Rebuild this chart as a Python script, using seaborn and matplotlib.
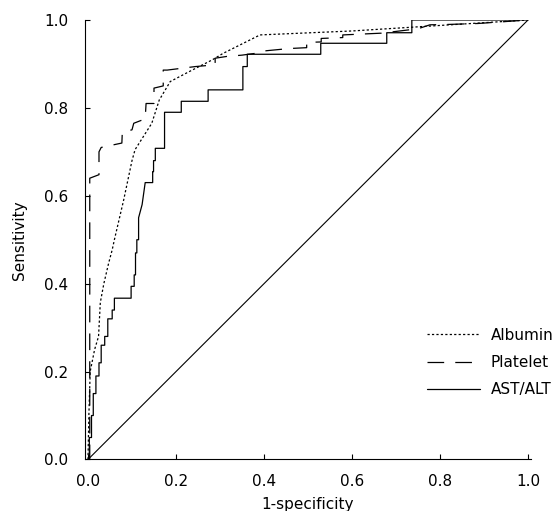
import pandas as pd
import matplotlib.pyplot as plt
import seaborn as sns

sns.set_theme(style="ticks")
plt.rcParams['font.family'] = ['DejaVu Sans']
plt.rcParams['lines.scale_dashes'] = False
plt.rcParams['text.color'] = 'black'
plt.rcParams['axes.labelcolor'] = 'black'

# ROC curves (1-specificity, sensitivity)
albumin_fpr = [0.0, 0.002, 0.005, 0.015, 0.024, 0.028, 0.036, 0.047, 0.055, 0.06, 0.081,
               0.1, 0.107, 0.145, 0.162, 0.187, 0.229, 0.282, 0.307, 0.391, 0.6, 0.823, 1.0]
albumin_tpr = [0.0, 0.1, 0.2, 0.25, 0.28, 0.357, 0.40, 0.447, 0.477, 0.5, 0.59,
               0.68, 0.705, 0.765, 0.818, 0.86, 0.882, 0.909, 0.924, 0.966, 0.975, 0.989, 1.0]

platelet_fpr = [0.0, 0.004, 0.004, 0.025, 0.025, 0.03, 0.077, 0.078, 0.10, 0.104, 0.13,
                0.132, 0.15, 0.15, 0.171, 0.171, 0.18, 0.244, 0.289, 0.289, 0.315, 0.35,
                0.38, 0.405, 0.457, 0.497, 0.497, 0.53, 0.53, 0.579, 0.579, 0.667, 0.75,
                0.777, 0.823, 0.886, 1.0]
platelet_tpr = [0.0, 0.0, 0.64, 0.648, 0.70, 0.71, 0.72, 0.745, 0.75, 0.765, 0.775,
                0.81, 0.81, 0.845, 0.85, 0.886, 0.886, 0.894, 0.898, 0.913, 0.917, 0.92,
                0.924, 0.93, 0.935, 0.937, 0.949, 0.95, 0.958, 0.96, 0.966, 0.97, 0.98,
                0.989, 0.99, 0.992, 1.0]

astalt_fpr = [0.0, 0.003, 0.003, 0.008, 0.008, 0.012, 0.012, 0.018, 0.018, 0.025, 0.025,
              0.03, 0.03, 0.038, 0.038, 0.045, 0.045, 0.055, 0.055, 0.06, 0.06, 0.098,
              0.098, 0.105, 0.105, 0.108, 0.108, 0.111, 0.111, 0.115, 0.115, 0.123, 0.13,
              0.147, 0.147, 0.149, 0.149, 0.153, 0.153, 0.174, 0.174, 0.212, 0.212, 0.273,
              0.273, 0.352, 0.352, 0.362, 0.362, 0.529, 0.529, 0.679, 0.679, 0.736, 0.736, 1.0]
astalt_tpr = [0.0, 0.0, 0.05, 0.05, 0.1, 0.1, 0.15, 0.15, 0.19, 0.19, 0.22,
              0.22, 0.26, 0.26, 0.28, 0.28, 0.32, 0.32, 0.34, 0.34, 0.367, 0.367,
              0.394, 0.394, 0.42, 0.42, 0.47, 0.47, 0.5, 0.5, 0.55, 0.58, 0.63,
              0.63, 0.655, 0.655, 0.68, 0.68, 0.708, 0.708, 0.79, 0.79, 0.815, 0.815,
              0.841, 0.841, 0.894, 0.894, 0.922, 0.922, 0.947, 0.947, 0.971, 0.971, 1.0, 1.0]

ref_x = [0.0, 1.0]
ref_y = [0.0, 1.0]

fig = plt.figure(figsize=(5.59, 5.11), dpi=100)
ax = fig.add_axes([0.1515, 0.1008, 0.7984, 0.8601])

lw = 0.9
sns.lineplot(x=albumin_fpr, y=albumin_tpr, sort=False, estimator=None, color='black',
             lw=lw, linestyle=(0, (1.6, 1.6)), label='Albumin', ax=ax)
sns.lineplot(x=platelet_fpr, y=platelet_tpr, sort=False, estimator=None, color='black',
             lw=lw, linestyle=(0, (12, 8)), label='Platelet', ax=ax)
sns.lineplot(x=astalt_fpr, y=astalt_tpr, sort=False, estimator=None, color='black',
             lw=lw, linestyle='-', label='AST/ALT', ax=ax)
sns.lineplot(x=ref_x, y=ref_y, sort=False, estimator=None, color='black', lw=0.8, ax=ax)

ax.set_xlim(-0.0075, 1.0068)
ax.set_ylim(0, 1.0)
ax.set_xticks([0.0, 0.2, 0.4, 0.6, 0.8, 1.0])
ax.set_yticks([0.0, 0.2, 0.4, 0.6, 0.8, 1.0])
ax.set_xticklabels(['0.0', '0.2', '0.4', '0.6', '0.8', '1.0'])
ax.set_yticklabels(['0.0', '0.2', '0.4', '0.6', '0.8', '1.0'])
sns.despine(ax=ax)
for s in ['left', 'bottom']:
    ax.spines[s].set_linewidth(0.8)
    ax.spines[s].set_color('black')
ax.tick_params(axis='x', direction='in', length=3.6, width=0.8, labelsize=11, pad=10.5, colors='black')
ax.tick_params(axis='y', direction='in', length=3.6, width=0.8, labelsize=11, pad=12, colors='black')

ax.set_xlabel('1-specificity', fontsize=11, labelpad=6)
ax.set_ylabel('Sensitivity', fontsize=11, labelpad=12)

ax.legend(frameon=False, loc='center left', bbox_to_anchor=(427 / 559, 1 - 362.5 / 511),
          bbox_transform=fig.transFigure, borderpad=0, borderaxespad=0,
          handlelength=3.45, handletextpad=0.72, labelspacing=0.8, fontsize=11)

fig.savefig('out.png', dpi=100)
